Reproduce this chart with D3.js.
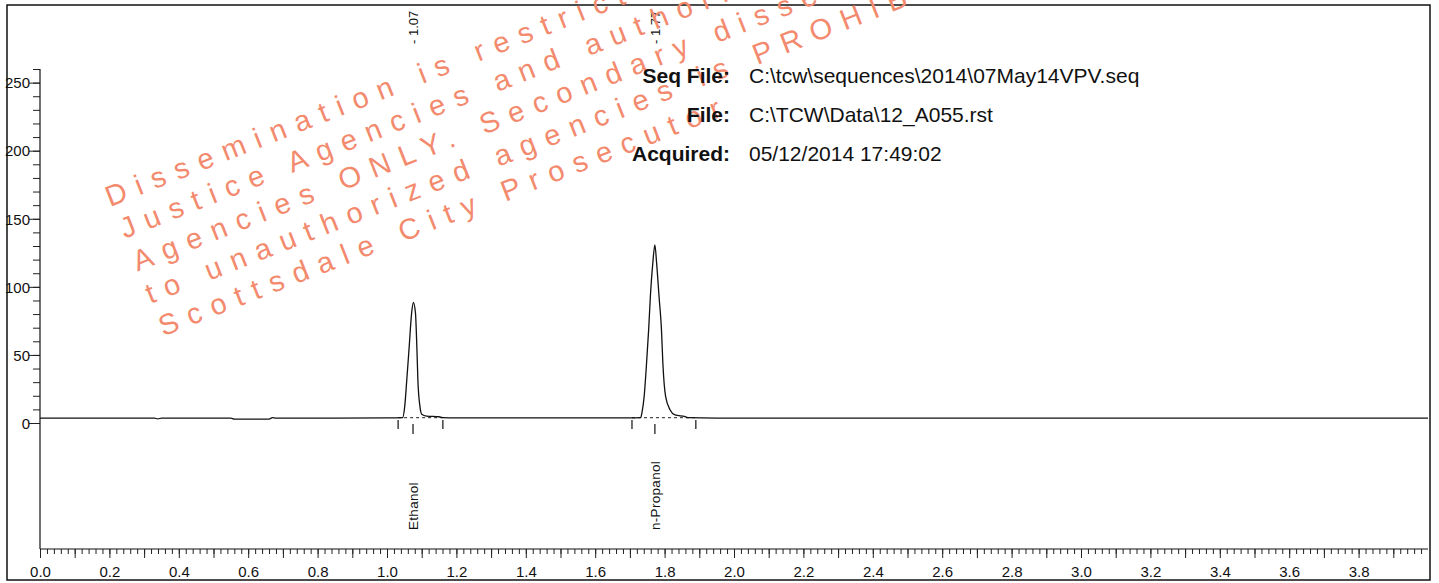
<!DOCTYPE html>
<html>
<head>
<meta charset="utf-8">
<script src="https://cdn.jsdelivr.net/npm/d3@7"></script>
<style>
    body { margin: 0; background: #fff; }
    svg { display: block; font-family: "Liberation Sans", Arial, sans-serif; }
</style>
</head>
<body>
<svg id="chart" width="1439" height="583"></svg>
<script>
// chromatogram trace (minutes, mV)
const baseTime  = [0.00, 0.33, 0.34, 0.35, 0.55, 0.56, 0.66, 0.67, 0.68, 1.00, 1.20, 1.70, 1.95, 4.00];
const baseValue = [3.6, 3.6, 3.0, 3.6, 3.6, 2.9, 2.9, 3.9, 3.6, 3.7, 3.7, 3.7, 3.6, 3.6];

const ethanolTime  = [1.045, 1.051, 1.057, 1.064, 1.071, 1.076, 1.082, 1.086, 1.089, 1.095, 1.100, 1.114, 1.150, 1.160];
const ethanolValue = [3.9, 12.0, 31.6, 56.1, 80.9, 88.5, 80.9, 56.1, 31.6, 12.0, 6.5, 5.1, 4.6, 3.9];

const propanolTime  = [1.731, 1.735, 1.741, 1.748, 1.754, 1.759, 1.766, 1.772, 1.777, 1.784, 1.791, 1.795, 1.803, 1.816, 1.830, 1.859, 1.867];
const propanolValue = [3.9, 8.0, 19.3, 43.9, 68.4, 92.9, 117.4, 130.9, 117.4, 92.9, 68.4, 43.9, 19.3, 9.6, 5.9, 4.6, 3.9];

// peak table
const peakNames    = ["Ethanol", "n-Propanol"];
const peakRT       = [1.075, 1.772];
const peakRTLabels = ["1.07", "1.77"];
const peakStart    = [1.032, 1.706];
const peakEnd      = [1.161, 1.890];
const peakBase     = [3.9, 3.9];

// axes
const yLabels = [0, 50, 100, 150, 200, 250];
const xLabels = [0.0, 0.2, 0.4, 0.6, 0.8, 1.0, 1.2, 1.4, 1.6, 1.8, 2.0, 2.2, 2.4, 2.6, 2.8, 3.0, 3.2, 3.4, 3.6, 3.8];

// header
const headerKeys   = ["Seq File:", "File:", "Acquired:"];
const headerValues = ["C:\\tcw\\sequences\\2014\\07May14VPV.seq", "C:\\TCW\\Data\\12_A055.rst", "05/12/2014 17:49:02"];

const watermarkLines = [
    "Dissemination is restricted to Criminal",
    "Justice Agencies and authorized",
    "Agencies ONLY. Secondary dissemination",
    "to unauthorized agencies is PROHIBITED",
    "Scottsdale City Prosecutor"
];

function buildTrace() {
    let pts = [];
    baseTime.forEach((t, i) => {
        let inPeak = (t > 1.04 && t < 1.165) || (t > 1.725 && t < 1.87);
        if (!inPeak) pts.push([t, baseValue[i]]);
    });
    ethanolTime.forEach((t, i) => pts.push([t, ethanolValue[i]]));
    propanolTime.forEach((t, i) => pts.push([t, propanolValue[i]]));
    pts.sort((a, b) => a[0] - b[0]);
    return pts;
}

function drawChart() {
    let svg = d3.select("#chart");
    svg.selectAll("*").remove();

    let x = d3.scaleLinear().domain([0, 4]).range([40, 1428]);
    let y = d3.scaleLinear().domain([0, 260]).range([423, 69]);
    let xAxisY = 549;

    // frame
    svg.append("rect")
        .attr("x", 7).attr("y", 5)
        .attr("width", 1423).attr("height", 575)
        .attr("fill", "none")
        .attr("stroke", "#111")
        .attr("stroke-width", 1.5);

    // y axis
    let yMinor = svg.append("g").attr("transform", "translate(40,0)")
        .call(d3.axisLeft(y).tickValues(d3.range(0, 261, 10)).tickSize(7).tickSizeOuter(0).tickFormat(""));
    yMinor.select(".domain").remove();
    let yMajor = svg.append("g").attr("transform", "translate(40,0)")
        .call(d3.axisLeft(y).tickValues(yLabels).tickSize(11).tickSizeOuter(0).tickFormat(d3.format("d")));
    yMajor.select(".domain").remove();
    yMajor.selectAll("text").attr("font-size", "15px").attr("x", -10).attr("dy", "0.35em").attr("fill", "#111");
    svg.selectAll(".tick line").attr("stroke", "#222");
    svg.append("line")
        .attr("x1", 40).attr("x2", 40)
        .attr("y1", y(260)).attr("y2", xAxisY)
        .attr("stroke", "#111").attr("stroke-width", 1.2);

    // x axis
    let xMinor = svg.append("g").attr("transform", `translate(0,${xAxisY})`)
        .call(d3.axisBottom(x).tickValues(d3.range(0, 200).map(i => i * 0.02)).tickSize(5).tickSizeOuter(0).tickFormat(""));
    xMinor.select(".domain").remove();
    let xMid = svg.append("g").attr("transform", `translate(0,${xAxisY})`)
        .call(d3.axisBottom(x).tickValues(d3.range(0, 40).map(i => i * 0.1)).tickSize(9).tickSizeOuter(0).tickFormat(""));
    xMid.select(".domain").remove();
    let xMajor = svg.append("g").attr("transform", `translate(0,${xAxisY})`)
        .call(d3.axisBottom(x).tickValues(xLabels).tickSize(0).tickSizeOuter(0).tickFormat(d3.format(".1f")));
    xMajor.select(".domain").remove();
    xMajor.selectAll("text").attr("font-size", "15px").attr("y", 17).attr("fill", "#111");
    svg.selectAll(".tick line").attr("stroke", "#222");
    svg.append("line")
        .attr("x1", x(0)).attr("x2", x(4))
        .attr("y1", xAxisY).attr("y2", xAxisY)
        .attr("stroke", "#111").attr("stroke-width", 1.2);

    // integration baselines and markers
    peakNames.forEach((name, i) => {
        svg.append("line")
            .attr("x1", x(peakStart[i])).attr("x2", x(peakEnd[i]))
            .attr("y1", y(peakBase[i])).attr("y2", y(peakBase[i]))
            .attr("stroke", "#222")
            .attr("stroke-dasharray", "3,3");
        [peakStart[i], peakEnd[i]].forEach(t => {
            svg.append("line")
                .attr("x1", x(t)).attr("x2", x(t))
                .attr("y1", 420).attr("y2", 429)
                .attr("stroke", "#222").attr("stroke-width", 1.3);
        });
        svg.append("line")
            .attr("x1", x(peakRT[i])).attr("x2", x(peakRT[i]))
            .attr("y1", 424).attr("y2", 434)
            .attr("stroke", "#222").attr("stroke-width", 1.3);

        // retention time at top
        svg.append("text")
            .attr("transform", `translate(${x(peakRT[i]) + 5},44) rotate(-90)`)
            .text("- " + peakRTLabels[i])
            .attr("font-size", "13px")
            .attr("fill", "#111");

        // compound name below
        svg.append("text")
            .attr("transform", `translate(${x(peakRT[i]) + 5},530) rotate(-90)`)
            .text(name)
            .attr("font-size", "13.5px")
            .attr("letter-spacing", "0.3px")
            .attr("fill", "#111");
    });

    // signal trace
    let line = d3.line()
        .x(d => x(d[0]))
        .y(d => y(d[1]))
        .curve(d3.curveMonotoneX);

    svg.append("path")
        .datum(buildTrace())
        .attr("fill", "none")
        .attr("stroke", "#111")
        .attr("stroke-width", 1.3)
        .attr("d", line);

    // watermark
    let wm = svg.append("g").attr("transform", "translate(110,207) rotate(-21.5)");
    watermarkLines.forEach((txt, i) => {
        wm.append("text")
            .attr("x", i === 0 ? 0 : 2)
            .attr("y", i * 35)
            .text(txt)
            .attr("font-size", "29px")
            .attr("letter-spacing", "10.4px")
            .attr("fill", "#f38a6e");
    });

    // header info
    headerKeys.forEach((k, i) => {
        svg.append("text")
            .attr("x", 730)
            .attr("y", 83 + i * 39)
            .attr("text-anchor", "end")
            .text(k)
            .attr("font-size", "21px")
            .attr("font-weight", "bold")
            .attr("fill", "#111");
        svg.append("text")
            .attr("x", 749)
            .attr("y", 83 + i * 39)
            .text(headerValues[i])
            .attr("font-size", "21px")
            .attr("fill", "#111");
    });
}

drawChart();
</script>
</body>
</html>
